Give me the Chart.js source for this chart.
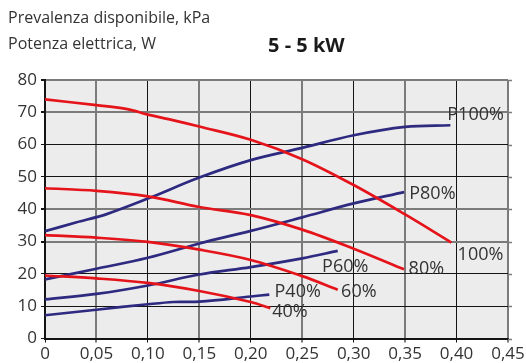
<!DOCTYPE html>
<html>
<head>
<meta charset="utf-8">
<script src="https://cdn.jsdelivr.net/npm/chart.js@4.4.1/dist/chart.umd.min.js"></script>
<style>
  html, body { margin: 0; padding: 0; background: #ffffff; }
  #wrap { position: relative; width: 526px; height: 363px; overflow: hidden; }
  canvas { position: absolute; left: 0; top: 0; }
  .hdr { position: absolute; font-family: "Open Sans", sans-serif; color: #333; white-space: nowrap; }
</style>
</head>
<body>
<div id="wrap">
  <canvas id="c" width="526" height="363"></canvas>
  <div class="hdr" style="left:8px; top:9px; font-size:16px; line-height:16px;">Prevalenza disponibile, kPa</div>
  <div class="hdr" style="left:8px; top:35px; font-size:16px; line-height:16px;">Potenza elettrica, W</div>
  <div class="hdr" style="left:268px; top:35px; font-size:20px; line-height:20px; font-weight:bold; color:#1a1a1a;">5 - 5 kW</div>
</div>
<script>
// ---- data ----
const xTicks = [0, 0.05, 0.10, 0.15, 0.20, 0.25, 0.30, 0.35, 0.40, 0.45];
const yTicks = [0, 10, 20, 30, 40, 50, 60, 70, 80];

// pressure (red) curves: x = flow, y = kPa
const h100x = [0, 0.05, 0.08, 0.10, 0.12, 0.15, 0.20, 0.25, 0.30, 0.35, 0.395];
const h100y = [74, 72.2, 71, 69.3, 67.9, 65.6, 61.5, 55.5, 47.5, 38.4, 29.7];
const h80x  = [0, 0.05, 0.10, 0.15, 0.20, 0.25, 0.30, 0.349];
const h80y  = [46.5, 45.7, 44, 40.7, 38.2, 33.7, 27.8, 21.4];
const h60x  = [0, 0.05, 0.10, 0.15, 0.20, 0.25, 0.2845];
const h60y  = [32, 31.2, 29.9, 27.5, 24.3, 19.3, 15.1];
const h40x  = [0, 0.05, 0.10, 0.15, 0.20, 0.219];
const h40y  = [19.5, 18.6, 17.2, 14.7, 11.3, 9.4];

// electric power (blue) curves
const p100x = [0, 0.03, 0.06, 0.10, 0.15, 0.20, 0.25, 0.30, 0.35, 0.394];
const p100y = [33.2, 35.9, 38.5, 43.3, 49.8, 55.2, 59, 62.9, 65.5, 66];
const p80x  = [0, 0.05, 0.10, 0.15, 0.20, 0.25, 0.30, 0.349];
const p80y  = [18.3, 21.6, 25, 29.4, 33.3, 37.5, 41.8, 45.3];
const p60x  = [0, 0.05, 0.10, 0.15, 0.20, 0.25, 0.2845];
const p60y  = [12.1, 13.8, 16.4, 19.8, 22.1, 24.8, 27.1];
const p40x  = [0, 0.05, 0.10, 0.125, 0.15, 0.20, 0.218];
const p40y  = [7.2, 8.9, 10.6, 11.3, 11.4, 13.0, 13.6];

// curve labels: text, x, y (data units, left / middle of text)
const labelText = ["P100%", "P80%", "100%", "80%", "P60%", "60%", "P40%", "40%"];
const labelX    = [0.391, 0.354, 0.401, 0.3534, 0.2693, 0.2878, 0.2231, 0.2208];
const labelY    = [69.6, 45.2, 26.4, 21.9, 22.6, 15.0, 14.8, 8.6];

// ---- build chart ----
const RED = '#e5141b';
const BLUE = '#2d2a80';
const pts = (xs, ys) => xs.map((x, i) => ({ x: x, y: ys[i] }));
const mk = (xs, ys, col) => ({
  data: pts(xs, ys), borderColor: col, backgroundColor: col, borderWidth: 2.7,
  pointRadius: 0, fill: false, tension: 0.35
});

const GRAY = '#7b7b7b';
const BLACK = '#141414';
const xGray = v => Math.round(v * 100) % 10 === 5;
const yGray = v => [30, 40, 70, 80].includes(v);

const extras = {
  id: 'extras',
  afterDraw(chart) {
    const ctx = chart.ctx, xs = chart.scales.x, ys = chart.scales.y, a = chart.chartArea;
    ctx.save();
    // right-side tick marks
    ctx.strokeStyle = GRAY; ctx.lineWidth = 1.5;
    yTicks.forEach(v => {
      const py = Math.round(ys.getPixelForValue(v)) + 0.5;
      ctx.beginPath(); ctx.moveTo(a.right, py); ctx.lineTo(a.right + 4, py); ctx.stroke();
    });
    // curve labels
    ctx.fillStyle = '#333';
    ctx.font = '18px "Open Sans", sans-serif';
    ctx.textAlign = 'left';
    ctx.textBaseline = 'alphabetic';
    labelText.forEach((t, i) => {
      ctx.fillText(t, xs.getPixelForValue(labelX[i]), ys.getPixelForValue(labelY[i]) + 6.5);
    });
    ctx.restore();
  }
};

const bgPlugin = {
  id: 'bg',
  beforeDraw(chart) {
    const a = chart.chartArea, ctx = chart.ctx;
    ctx.save(); ctx.fillStyle = '#ececec';
    ctx.fillRect(a.left, a.top, a.right - a.left, a.bottom - a.top);
    ctx.restore();
  }
};

new Chart(document.getElementById('c'), {
  type: 'line',
  data: {
    datasets: [
      mk(h100x, h100y, RED), mk(h80x, h80y, RED), mk(h60x, h60y, RED), mk(h40x, h40y, RED),
      mk(p100x, p100y, BLUE), mk(p80x, p80y, BLUE), mk(p60x, p60y, BLUE), mk(p40x, p40y, BLUE)
    ]
  },
  options: {
    responsive: false,
    animation: false,
    events: [],
    layout: { padding: { left: 0, right: 18, top: 80, bottom: 0 } },
    plugins: { legend: { display: false }, tooltip: { enabled: false } },
    scales: {
      x: {
        type: 'linear', min: 0, max: 0.45,
        afterBuildTicks: s => { s.ticks = xTicks.map(v => ({ value: v })); },
        afterFit: s => { s.height = 24.5; },
        ticks: {
          padding: 1, color: '#333',
          font: { family: '"Open Sans", sans-serif', size: 17 },
          callback: v => v === 0 ? '0' : v.toFixed(2).replace('.', ','),
          maxRotation: 0, autoSkip: false
        },
        grid: {
          color: c => xGray(c.tick.value) ? GRAY : BLACK,
          lineWidth: c => xGray(c.tick.value) ? 2 : 1,
          tickColor: c => xGray(c.tick.value) ? GRAY : BLACK,
          tickLength: 4
        },
        border: { color: BLACK, width: 2 }
      },
      y: {
        min: 0, max: 80,
        afterBuildTicks: s => { s.ticks = yTicks.map(v => ({ value: v })); },
        afterFit: s => { s.width = 45; },
        ticks: {
          padding: 4, color: '#333',
          font: { family: '"Open Sans", sans-serif', size: 17 }
        },
        grid: {
          color: c => yGray(c.tick.value) ? GRAY : BLACK,
          lineWidth: c => yGray(c.tick.value) ? 2 : 1,
          tickColor: BLACK,
          tickLength: 4
        },
        border: { color: BLACK, width: 2 }
      }
    }
  },
  plugins: [bgPlugin, extras]
});
</script>
</body>
</html>
